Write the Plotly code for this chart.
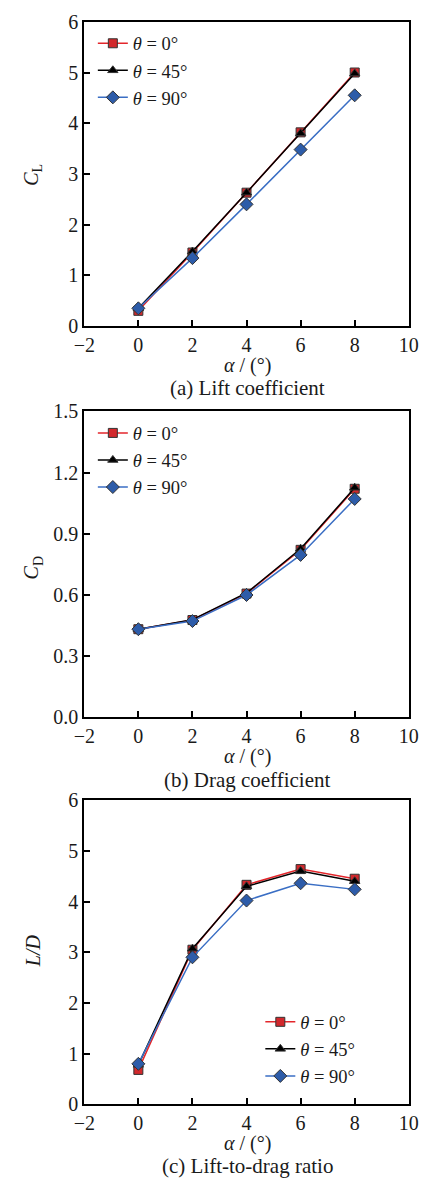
import plotly.graph_objects as go

W, H = 434, 1189

alpha = [0, 2, 4, 6, 8]
series_names = ["<i>θ</i> = 0°", "<i>θ</i> = 45°", "<i>θ</i> = 90°"]

CL_0 = [0.30, 1.45, 2.63, 3.82, 5.00]
CL_45 = [0.35, 1.47, 2.63, 3.80, 4.98]
CL_90 = [0.35, 1.34, 2.40, 3.48, 4.55]

CD_0 = [0.430, 0.475, 0.605, 0.820, 1.120]
CD_45 = [0.430, 0.477, 0.608, 0.825, 1.125]
CD_90 = [0.430, 0.470, 0.598, 0.795, 1.070]

LD_0 = [0.68, 3.05, 4.33, 4.64, 4.45]
LD_45 = [0.78, 3.07, 4.30, 4.60, 4.40]
LD_90 = [0.80, 2.90, 4.02, 4.36, 4.24]

x_ticks = [-2, 0, 2, 4, 6, 8, 10]
cl_ticks = [0, 1, 2, 3, 4, 5, 6]
cd_ticks = [0.0, 0.3, 0.6, 0.9, 1.2, 1.5]
ld_ticks = [0, 1, 2, 3, 4, 5, 6]

FONT = "Liberation Serif"
FS = 20      # ticks and axis titles
CFS = 21     # captions
LFS = 18.5   # legends

line_colors = ["#e3262b", "#000000", "#3a6ec4"]
marker_colors = ["#d2282c", "#000000", "#2d5ca9"]
symbols = ["square", "triangle-up", "diamond"]
msizes = [9, 9, 10]


def py(px):
    return 1 - px / H


def px_x(px):
    return px / W


x_dom = [px_x(77), px_x(418)]
panels = [
    dict(top=11, bottom=321, data=[CL_0, CL_45, CL_90], rng=[0, 6], ticks=cl_ticks, fmt="d",
         ytitle="<i>C</i><sub>L</sub>", ytitle_y=167, xtitle_y=361, cap_y=384,
         cap="(a) Lift coefficient", leg=(86, 14)),
    dict(top=408, bottom=719, data=[CD_0, CD_45, CD_90], rng=[0, 1.5], ticks=cd_ticks, fmt=".1f",
         ytitle="<i>C</i><sub>D</sub>", ytitle_y=567, xtitle_y=760, cap_y=784,
         cap="(b) Drag coefficient", leg=(86, 411)),
    dict(top=804, bottom=1114, data=[LD_0, LD_45, LD_90], rng=[0, 6], ticks=ld_ticks, fmt="d",
         ytitle="<i>L/D</i>", ytitle_y=957, xtitle_y=1154, cap_y=1177,
         cap="(c) Lift-to-drag ratio", leg=(262, 1011)),
]

fig = go.Figure()
annotations = []
layout = dict(
    width=W, height=H,
    margin=dict(l=0, r=0, t=0, b=0),
    paper_bgcolor="white", plot_bgcolor="white",
    font=dict(family=FONT, size=FS, color="#1a1a1a"),
)

for i, p in enumerate(panels):
    k = "" if i == 0 else str(i + 1)
    xa, ya = "x" + k, "y" + k
    lg = "legend" + k
    for j in range(3):
        fig.add_trace(go.Scatter(
            x=alpha, y=p["data"][j], mode="lines+markers", name=series_names[j],
            xaxis=xa, yaxis=ya, legend=lg,
            line=dict(color=line_colors[j], width=1.5),
            marker=dict(symbol=symbols[j], size=msizes[j], color=marker_colors[j],
                        line=dict(color="#333333", width=1)),
        ))
    axis_common = dict(
        showline=True, linecolor="black", linewidth=1.8, mirror=True,
        ticks="inside", ticklen=6, tickwidth=1.6, tickcolor="black",
        showgrid=False, zeroline=False,
        tickfont=dict(family=FONT, size=FS, color="#1a1a1a"),
    )
    layout["xaxis" + k] = dict(
        axis_common, domain=x_dom, range=[-2, 10], tickvals=x_ticks,
        ticktext=["−2" if t < 0 else str(t) for t in x_ticks],
        anchor=ya,
    )
    layout["yaxis" + k] = dict(
        axis_common, domain=[py(p["bottom"]), py(p["top"])], range=p["rng"],
        tickvals=p["ticks"], tickformat=p["fmt"], anchor=xa,
    )
    layout[lg] = dict(
        x=px_x(p["leg"][0]), y=py(p["leg"][1]), xanchor="left", yanchor="top",
        bgcolor="rgba(0,0,0,0)", borderwidth=0,
        font=dict(family=FONT, size=LFS, color="#1a1a1a"),
        tracegroupgap=0,
    )
    annotations.append(dict(
        text=p["ytitle"], x=px_x(23), y=py(p["ytitle_y"]), xref="paper", yref="paper",
        textangle=-90, showarrow=False, xanchor="center", yanchor="middle",
        font=dict(family=FONT, size=FS, color="#1a1a1a"),
    ))
    annotations.append(dict(
        text="<i>α</i> / (°)", x=px_x(248), y=py(p["xtitle_y"]), xref="paper", yref="paper",
        showarrow=False, xanchor="center", yanchor="middle",
        font=dict(family=FONT, size=FS, color="#1a1a1a"),
    ))
    annotations.append(dict(
        text=p["cap"], x=px_x(248), y=py(p["cap_y"]), xref="paper", yref="paper",
        showarrow=False, xanchor="center", yanchor="middle",
        font=dict(family=FONT, size=CFS, color="#1a1a1a"),
    ))

layout["annotations"] = annotations
fig.update_layout(**layout)
fig.write_html("out.html")
